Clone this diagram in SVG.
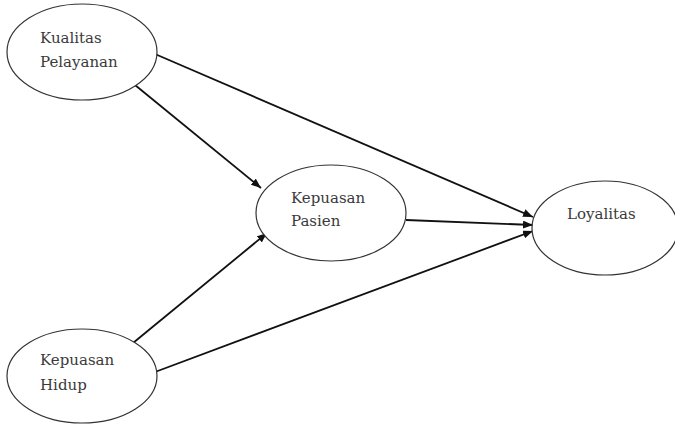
<svg xmlns="http://www.w3.org/2000/svg" width="675" height="425" viewBox="0 0 675 425">
  <style>
    .node ellipse { fill: #ffffff; stroke: #333333; stroke-width: 1.2; }
    .node text { font-family: "DejaVu Serif", "Liberation Serif", serif; font-size: 15px; fill: #3a3a3a; }
    .edge { stroke: #111111; stroke-width: 1.8; fill: none; marker-end: url(#arrow); }
  </style>
  <defs>
    <marker id="arrow" viewBox="0 0 10 8" refX="10" refY="4" markerWidth="10" markerHeight="8" markerUnits="userSpaceOnUse" orient="auto">
      <path d="M0,0 L10,4 L0,8 Z" fill="#111111"/>
    </marker>
  </defs>
  <rect width="675" height="425" fill="#ffffff"/>

  <g id="connectors">
    <line class="edge" x1="155" y1="54" x2="533" y2="217"/>
    <line class="edge" x1="135" y1="85" x2="261" y2="188"/>
    <line class="edge" x1="133" y1="343" x2="267" y2="233"/>
    <line class="edge" x1="155" y1="372" x2="533" y2="231"/>
    <line class="edge" x1="406" y1="220" x2="533" y2="225"/>
  </g>

  <g id="kualitas-pelayanan" class="node">
    <ellipse cx="82" cy="52" rx="75" ry="48"/>
    <text x="40" y="43">Kualitas</text>
    <text x="40" y="67">Pelayanan</text>
  </g>

  <g id="kepuasan-pasien" class="node">
    <ellipse cx="331" cy="213" rx="75" ry="48"/>
    <text x="291" y="203">Kepuasan</text>
    <text x="291" y="226">Pasien</text>
  </g>

  <g id="loyalitas" class="node">
    <ellipse cx="605" cy="228" rx="73" ry="47"/>
    <text x="567" y="219">Loyalitas</text>
  </g>

  <g id="kepuasan-hidup" class="node">
    <ellipse cx="82" cy="376" rx="75" ry="47"/>
    <text x="40" y="365">Kepuasan</text>
    <text x="40" y="390">Hidup</text>
  </g>
</svg>
